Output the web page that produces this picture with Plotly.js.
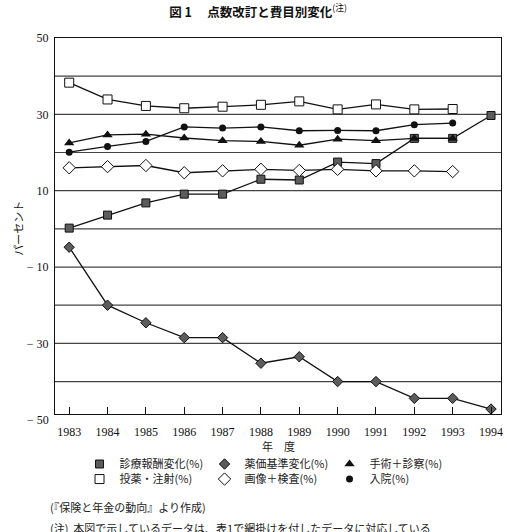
<!DOCTYPE html>
<html>
<head>
<meta charset="utf-8">
<script src="https://cdn.plot.ly/plotly-3.0.1.min.js"></script>
<style>
  html, body { margin: 0; padding: 0; background: #fff; }
  #chart { width: 507px; height: 532px; }
</style>
</head>
<body>
<div id="chart"></div>
<script>
// 年度
const years = [1983, 1984, 1985, 1986, 1987, 1988, 1989, 1990, 1991, 1992, 1993, 1994];

// 各費目の変化率 (%)
const shinryoHoshu = [0.2, 3.6, 6.8, 9.1, 9.1, 13.0, 12.8, 17.5, 17.1, 23.7, 23.7, 29.7];        // 診療報酬変化
const yakkaKijun   = [-4.8, -20.0, -24.6, -28.5, -28.5, -35.2, -33.5, -40.0, -40.0, -44.4, -44.4, -47.2]; // 薬価基準変化
const shujutsu     = [22.5, 24.6, 24.8, 23.8, 23.1, 22.9, 21.9, 23.5, 23.1, 23.7, 23.7];         // 手術＋診察
const toyaku       = [38.3, 33.9, 32.2, 31.6, 32.0, 32.5, 33.4, 31.3, 32.6, 31.3, 31.4];         // 投薬・注射
const gazo         = [16.0, 16.3, 16.6, 14.7, 15.2, 15.6, 15.3, 15.6, 15.2, 15.2, 15.0];         // 画像＋検査
const nyuin        = [20.1, 21.6, 22.9, 26.7, 26.4, 26.7, 25.7, 25.8, 25.7, 27.3, 27.7];         // 入院

const seriesNames = ['診療報酬変化(%)', '薬価基準変化(%)', '手術＋診察(%)', '投薬・注射(%)', '画像＋検査(%)', '入院(%)'];
const yTickVals = [50, 30, 10, -10, -30];
const yTickText = ['50', '30', '10', '− 10', '− 30'];

const GRAY = '#5c5c5c';
const INK = '#111';
const lineStyle = { color: INK, width: 1.3 };

const markerStyles = [
  { symbol: 'square',       size: 8,   color: GRAY,   line: { color: INK, width: 1 } },
  { symbol: 'diamond',      size: 8,   color: GRAY,   line: { color: INK, width: 1 } },
  { symbol: 'triangle-up',  size: 9,   color: INK,    line: { color: INK, width: 0 } },
  { symbol: 'square',       size: 9,   color: '#fff', line: { color: INK, width: 1 } },
  { symbol: 'diamond',      size: 9.5, color: '#fff', line: { color: INK, width: 1 } },
  { symbol: 'circle',       size: 7,   color: INK,    line: { color: INK, width: 0 } }
];

const seriesValues = [shinryoHoshu, yakkaKijun, shujutsu, toyaku, gazo, nyuin];
// legend rows: first three entries on the upper row, the rest on the lower row
const legendRow = ['legend', 'legend', 'legend', 'legend2', 'legend2', 'legend2'];

const traces = [];
seriesValues.forEach((vals, i) => {
  traces.push({
    type: 'scatter',
    mode: 'lines+markers',
    x: years.slice(0, vals.length),
    y: vals,
    name: seriesNames[i],
    line: lineStyle,
    marker: markerStyles[i],
    showlegend: false,
    cliponaxis: false,
    hoverinfo: 'x+y+name'
  });
});
// legend entries (marker only)
seriesValues.forEach((vals, i) => {
  traces.push({
    type: 'scatter',
    mode: 'markers',
    x: [null],
    y: [null],
    name: seriesNames[i],
    marker: markerStyles[i],
    showlegend: true,
    legend: legendRow[i],
    hoverinfo: 'skip'
  });
});

const serif = 'Liberation Serif, DejaVu Serif, serif';
const cjk = 'Noto Sans CJK JP, sans-serif';

const legendBase = {
  orientation: 'h',
  entrywidth: 80,
  entrywidthmode: 'pixels',
  x: 0.055, xanchor: 'left',
  yanchor: 'middle',
  font: { family: cjk, size: 11, color: '#222' },
  bgcolor: 'rgba(0,0,0,0)',
  itemwidth: 30,
  tracegroupgap: 0
};

const layout = {
  width: 507,
  height: 532,
  margin: { l: 55, r: 6, t: 38, b: 118 },
  paper_bgcolor: '#fff',
  plot_bgcolor: '#fff',
  showlegend: true,
  title: {
    text: '<b>図 1　 点数改訂と費目別変化</b><sup>(注)</sup>',
    font: { family: cjk, size: 12.5, color: '#111' },
    xref: 'container', x: 0.509, xanchor: 'center',
    yref: 'container', y: 0.977, yanchor: 'middle'
  },
  xaxis: {
    range: [1982.63, 1994.26],
    tickvals: years,
    ticktext: years.map(String),
    ticks: 'inside',
    ticklen: 7,
    tickwidth: 1,
    tickcolor: INK,
    ticklabelstandoff: 7,
    tickfont: { family: serif, size: 12, color: '#111' },
    showgrid: false,
    zeroline: false,
    showline: true,
    linecolor: INK,
    linewidth: 1,
    mirror: true
  },
  yaxis: {
    range: [-48.5, 50],
    tickvals: yTickVals,
    ticktext: yTickText,
    ticks: '',
    ticklabelstandoff: 3,
    tickfont: { family: serif, size: 12, color: '#111' },
    showgrid: false,
    zeroline: false,
    showline: true,
    linecolor: INK,
    linewidth: 1,
    mirror: true
  },
  shapes: [40, 30, 20, 10, 0, -10, -20, -30, -40].map(v => ({
    type: 'line', xref: 'paper', x0: 0, x1: 1, yref: 'y', y0: v, y1: v,
    line: { color: '#444', width: 1.2 }, layer: 'below'
  })),
  legend: Object.assign({}, legendBase, { y: -0.133 }),
  legend2: Object.assign({}, legendBase, { y: -0.173 }),
  annotations: [
    { text: '− 50', xref: 'paper', x: -0.009, xanchor: 'right', yref: 'paper', y: -0.016, yanchor: 'middle',
      showarrow: false, font: { family: serif, size: 12, color: '#111' } },
    { text: 'パーセント', xref: 'paper', x: -0.083, xanchor: 'center', yref: 'paper', y: 0.495, yanchor: 'middle',
      textangle: -90, showarrow: false, font: { family: cjk, size: 11, color: '#222' } },
    { text: '年　度', xref: 'paper', x: 0.5, xanchor: 'center', yref: 'paper', y: -0.084, yanchor: 'middle',
      showarrow: false, font: { family: cjk, size: 11, color: '#222' } },
    { text: '(『保険と年金の動向』より作成)', xref: 'paper', x: -0.016, xanchor: 'left', yref: 'paper', y: -0.247, yanchor: 'middle',
      showarrow: false, font: { family: cjk, size: 11, color: '#222' } },
    { text: '(注)  本図で示しているデータは、表1で網掛けを付したデータに対応している', xref: 'paper', x: -0.016, xanchor: 'left', yref: 'paper', y: -0.303, yanchor: 'middle',
      showarrow: false, font: { family: cjk, size: 11, color: '#222' } }
  ]
};

Plotly.newPlot('chart', traces, layout, { displayModeBar: false, staticPlot: true });
</script>
</body>
</html>
